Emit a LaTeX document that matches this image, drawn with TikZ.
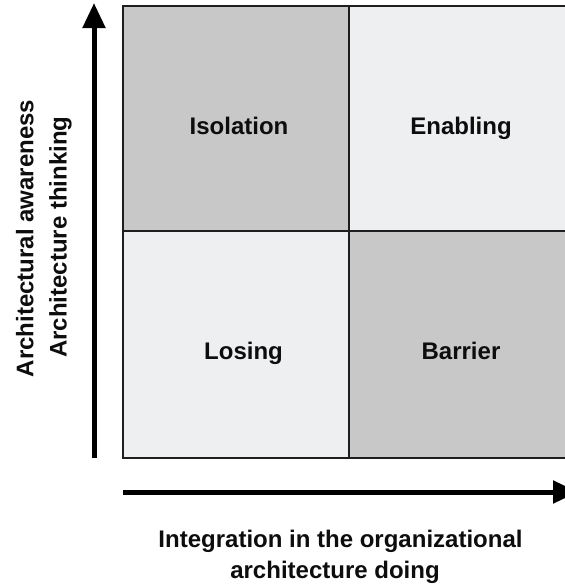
\documentclass[tikz,border=0pt]{standalone}
\usepackage{fontspec}
\setmainfont{Liberation Sans}
\usetikzlibrary{arrows.meta}
\definecolor{quaddark}{RGB}{200,200,200}
\definecolor{quadlight}{RGB}{238,239,241}
\definecolor{gridline}{RGB}{30,30,30}
\tikzset{
  lbl/.style={font=\fontsize{24}{29}\selectfont\bfseries, text=black!95, inner sep=0pt, anchor=base},
  axisarrow/.style={line width=5pt, -{Triangle[length=25pt,width=22pt]}},
}
\begin{document}
\begin{tikzpicture}[x=1pt,y=-1pt]
\useasboundingbox (0,0) rectangle (565,584);
% quadrants
\fill[quaddark]  (123,6) rectangle (349,231);
\fill[quadlight] (349,6) rectangle (575,231);
\fill[quadlight] (123,231) rectangle (349,458);
\fill[quaddark]  (349,231) rectangle (575,458);
\draw[gridline, line width=2.5pt] (123,6) rectangle (575,458);
\draw[gridline, line width=2.5pt] (349,6) -- (349,458);
\draw[gridline, line width=2.5pt] (123,231) -- (575,231);
% labels
\node[lbl] (iso) at (239,134) {Isolation};
\node[lbl] (ena) at (461,134) {Enabling};
\node[lbl] (los) at (243.5,359) {Losing};
\node[lbl] (bar) at (461,359) {Barrier};
% axes
\coordinate (ys) at (94,458);
\coordinate (ye) at (94,3);
\coordinate (xs) at (123,492);
\coordinate (xe) at (578,492);
\draw[axisarrow] (ys) -- (ye);
\draw[axisarrow] (xs) -- (xe);
% axis labels
\node[lbl, rotate=90] (ya) at (33.3,238.5) {Architectural awareness};
\node[lbl, rotate=90] (yb) at (66.7,237) {Architecture thinking};
\node[lbl] (xa) at (340.5,547.3) {Integration in the organizational};
\node[lbl] (xb) at (335,578.3) {architecture doing};
\end{tikzpicture}
\end{document}
